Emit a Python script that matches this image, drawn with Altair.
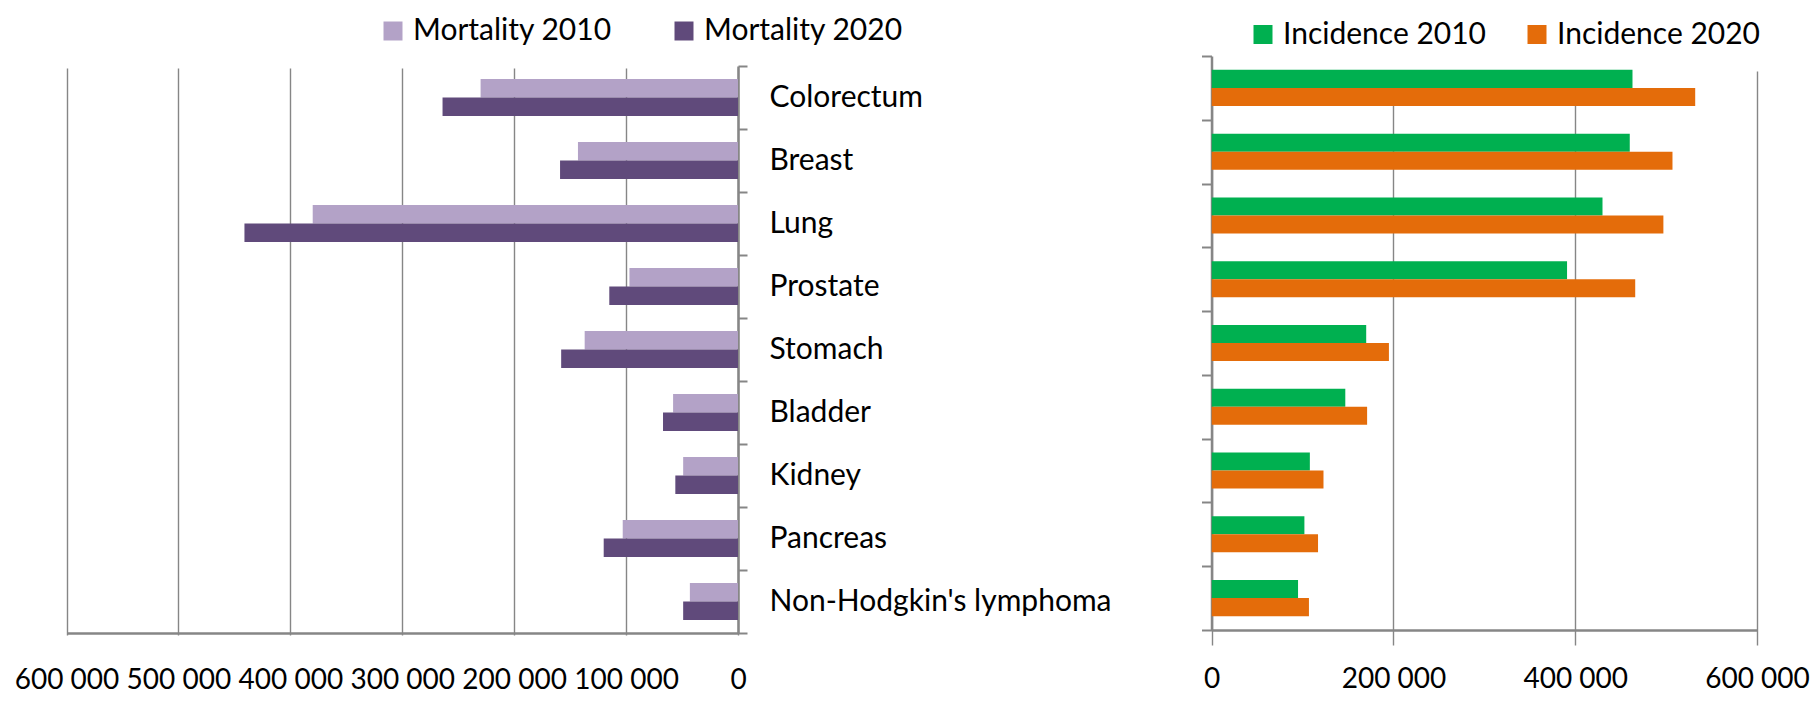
import altair as alt
import pandas as pd

# ---------------- data ----------------
categories = ["Colorectum", "Breast", "Lung", "Prostate", "Stomach",
              "Bladder", "Kidney", "Pancreas", "Non-Hodgkin's lymphoma"]

mortality_2010 = [230000, 143000, 380000, 97000, 137000, 58000, 49000, 103000, 43000]
mortality_2020 = [264000, 159000, 441000, 115000, 158000, 67000, 56000, 120000, 49000]
incidence_2010 = [463000, 460000, 430000, 391000, 170000, 147000, 108000, 102000, 95000]
incidence_2020 = [532000, 507000, 497000, 466000, 195000, 171000, 123000, 117000, 107000]

mortality_series = ["Mortality 2010", "Mortality 2020"]
incidence_series = ["Incidence 2010", "Incidence 2020"]

ticks_left = [0, 100000, 200000, 300000, 400000, 500000, 600000]
ticks_right = [0, 200000, 400000, 600000]

mort = pd.DataFrame({
    "Cancer": categories * 2,
    "Series": [mortality_series[0]] * len(categories) + [mortality_series[1]] * len(categories),
    "Value": mortality_2010 + mortality_2020,
})
inc = pd.DataFrame({
    "Cancer": categories * 2,
    "Series": [incidence_series[0]] * len(categories) + [incidence_series[1]] * len(categories),
    "Value": incidence_2010 + incidence_2020,
})

# ---------------- style ----------------
FONT = "Lato"
FS_TICK = 28
FS_TEXT = 30
GRAY = "#868686"
label_expr = "replace(format(datum.value, ','), ',', ' ')"

W, H = 1802, 685


def x_axis(values, offset, pad):
    return alt.Axis(orient="bottom", offset=offset, values=values, labelExpr=label_expr,
                    title=None, grid=True, gridColor=GRAY, gridWidth=1.4,
                    domainColor=GRAY, domainWidth=2.5, ticks=False, tickSize=0,
                    labelPadding=pad, labelFont=FONT, labelFontSize=FS_TICK, labelColor="black",
                    labelOverlap=False, labelFlush=False, labelBound=False)


def legend(x, y, colpad, laboff):
    return alt.Legend(orient="none", legendX=x, legendY=y, direction="horizontal",
                      columns=2, columnPadding=colpad, symbolType="square", symbolSize=361,
                      symbolStrokeWidth=0, labelFont=FONT, labelFontSize=FS_TEXT,
                      labelColor="black", labelOffset=laboff, title=None, padding=0,
                      labelLimit=500)


left = alt.Chart(mort).mark_bar().encode(
    x=alt.X("Value:Q",
            scale=alt.Scale(domain=[0, 600000], range=[730, 58.5], nice=False),
            axis=x_axis(ticks_left, -60, 33)),
    y=alt.Y("Cancer:N", sort=categories,
            scale=alt.Scale(range=[58, 625], paddingInner=0, paddingOuter=0),
            axis=alt.Axis(orient="right", offset=-1072, title=None, tickBand="extent",
                          tickSize=9, tickColor=GRAY, tickWidth=2, domainColor=GRAY,
                          domainWidth=2.5, labelPadding=22, labelAlign="left",
                          labelBaseline="middle", labelFont=FONT, labelFontSize=FS_TEXT,
                          labelColor="black", labelLimit=600, grid=False)),
    yOffset=alt.YOffset("Series:N", sort=mortality_series,
                        scale=alt.Scale(paddingInner=0, paddingOuter=0.7)),
    color=alt.Color("Series:N",
                    scale=alt.Scale(domain=mortality_series, range=["#b3a2c7", "#604a7b"]),
                    legend=legend(370, 8, 57, 5)),
)

right = alt.Chart(inc).mark_bar().encode(
    x=alt.X("Value:Q",
            scale=alt.Scale(domain=[0, 600000], range=[1203.7, 1749], nice=False),
            axis=x_axis(ticks_right, -63, 35)),
    y=alt.Y("Cancer:N", sort=categories,
            scale=alt.Scale(range=[48, 622], paddingInner=0, paddingOuter=0),
            axis=alt.Axis(orient="left", offset=-1203.5, title=None, tickBand="extent",
                          tickSize=10, tickColor=GRAY, tickWidth=2, domainColor=GRAY,
                          domainWidth=2.5, labels=False, grid=False)),
    yOffset=alt.YOffset("Series:N", sort=incidence_series,
                        scale=alt.Scale(paddingInner=0, paddingOuter=0.77)),
    color=alt.Color("Series:N",
                    scale=alt.Scale(domain=incidence_series, range=["#00b050", "#e46c0a"]),
                    legend=legend(1240, 11.5, 36, 5)),
)

chart = alt.layer(left, right).resolve_scale(
    x="independent", y="independent", color="independent", yOffset="independent"
).resolve_axis(
    x="independent", y="independent"
).resolve_legend(
    color="independent"
).properties(
    width=W, height=H, padding=0,
    autosize=alt.AutoSizeParams(type="none"),
).configure_view(stroke=None)

chart.save("out.html", embed_options={"renderer": "svg", "actions": False})
